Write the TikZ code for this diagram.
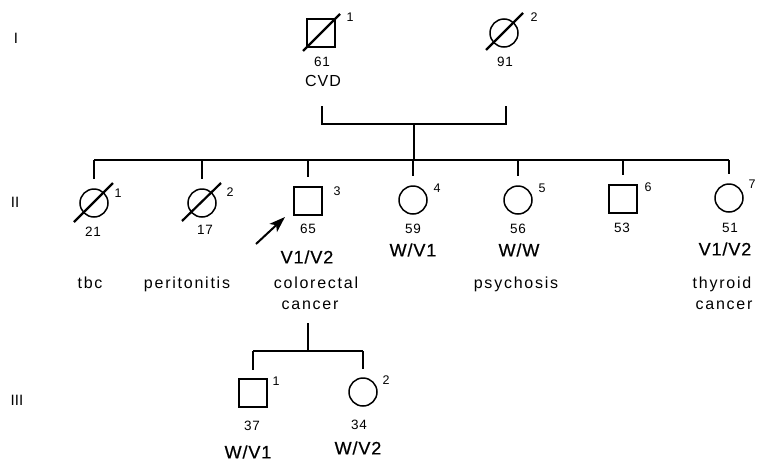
\documentclass[tikz,border=0pt]{standalone}
\usepackage{fontspec}
\setmainfont{Liberation Sans}
\newfontfamily\spaced[LetterSpace=11]{Liberation Sans}
\newfontfamily\spacedg[LetterSpace=6]{Liberation Sans}
\newfontfamily\spacedb[LetterSpace=5,FakeBold=0.6]{Liberation Sans}
\usetikzlibrary{arrows.meta,calc}
\tikzset{
  sq/.style={draw,rectangle,minimum size=28pt,inner sep=0pt,line width=1.6pt},
  ci/.style={draw,circle,minimum size=28pt,inner sep=0pt,line width=1.5pt},
  dead/.style={line width=2.2pt},
  lnk/.style={line width=1.7pt},
  idn/.style={font=\fontsize{12.5}{12.5}\selectfont,inner sep=0pt},
  age/.style={font=\spacedg\fontsize{13.5}{13.5}\selectfont,inner sep=0pt},
  geno/.style={font=\spacedb\fontsize{18}{18}\selectfont,inner sep=0pt},
  dis/.style={font=\spaced\fontsize{16}{16}\selectfont,inner sep=0pt,anchor=base},
  gen/.style={font=\fontsize{15}{15}\selectfont,inner sep=0pt},
}
\begin{document}
\begin{tikzpicture}[x=1pt,y=-1pt]
\useasboundingbox (0,0) rectangle (763,461);
% generation labels
\node[gen] (gI) at (16,38) {I};
\node[gen] (gII) at (15,202) {II};
\node[gen] (gIII) at (17,400) {III};
% Generation I
\node[sq] (I1) at (321,33) {};
\draw[dead] ($(I1.center)+(-18,18)$) -- ($(I1.center)+(19,-19)$);
\node[idn] (I1n) at (350,17) {1};
\node[age] (I1a) at (322,62) {61};
\node[font=\spacedg\fontsize{16}{16}\selectfont,inner sep=0pt] (I1d) at (323,81) {CVD};
\node[ci] (I2) at (504,33) {};
\draw[dead] ($(I2.center)+(-18,17)$) -- ($(I2.center)+(19,-20)$);
\node[idn] (I2n) at (534,17) {2};
\node[age] (I2a) at (505,62) {91};
% marriage and descent
\coordinate (mL) at (322,106);
\coordinate (mR) at (506,106);
\coordinate (mC) at (414,124);
\coordinate (sC) at (414,160);
\draw[lnk] (mL) -- (mL |- mC) -- (mR |- mC) -- (mR);
\draw[lnk] (mC) -- (sC);
% Generation II
\node[ci] (II1) at (94,203) {};
\node[ci] (II2) at (202,203) {};
\node[sq] (II3) at (308,201) {};
\node[ci] (II4) at (413,200) {};
\node[ci] (II5) at (518,200) {};
\node[sq] (II6) at (623,199) {};
\node[ci] (II7) at (729,198) {};
\draw[lnk] (II1.north |- sC) -- (II7.north |- sC);
\foreach \n in {II1,II2,II3,II4,II5,II6,II7}
  \draw[lnk] (\n.north |- sC) -- ($(\n.north)+(0,-9)$);
\draw[dead] ($(II1.center)+(-20,19)$) -- ($(II1.center)+(19,-20)$);
\draw[dead] ($(II2.center)+(-20,18)$) -- ($(II2.center)+(19,-20)$);
\node[idn] at (118,193) {1};
\node[idn] at (230,192) {2};
\node[idn] at (337,191) {3};
\node[idn] at (437,188) {4};
\node[idn] at (542,188) {5};
\node[idn] at (648,187) {6};
\node[idn] at (752,184) {7};
\node[age] (II1a) at (93,232) {21};
\node[age] (II2a) at (205,230) {17};
\node[age] (II3a) at (308,229) {65};
\node[age] (II4a) at (413,229) {59};
\node[age] (II5a) at (518,229) {56};
\node[age] (II6a) at (622,228) {53};
\node[age] (II7a) at (730,228) {51};
\node[geno] (II3g) at (307,257) {V1/V2};
\node[geno] (II4g) at (413,250) {W/V1};
\node[geno] (II5g) at (519,250) {W/W};
\node[geno] (II7g) at (725,249) {V1/V2};
\node[dis] (II1d) at (90,288) {tbc};
\node[dis] (II2d) at (187,288) {peritonitis};
\node[dis] (II3d) at (316,288) {colorectal};
\node[dis] (II3e) at (310,309) {cancer};
\node[dis] (II5d) at (516,288) {psychosis};
\node[dis] (II7d) at (722,288) {thyroid};
\node[dis] (II7e) at (724,309) {cancer};
% proband arrow
\coordinate (aS) at (256,244);
\coordinate (aT) at (285,217);
\draw[line width=2pt,-{Stealth[length=16pt,width=11pt,inset=4pt]}] (aS) -- (aT);
% Generation III
\coordinate (d3) at (308,323);
\coordinate (h3) at (308,351);
\node[sq] (III1) at (253,393) {};
\node[ci] (III2) at (363,392) {};
\draw[lnk] (d3) -- (h3);
\draw[lnk] (III1.north |- h3) -- (III2.north |- h3);
\draw[lnk] (III1.north |- h3) -- ($(III1.north)+(0,-8)$);
\draw[lnk] (III2.north |- h3) -- ($(III2.north)+(0,-8)$);
\node[idn] at (276,381) {1};
\node[idn] at (386,380) {2};
\node[age] (III1a) at (252,426) {37};
\node[age] (III2a) at (359,425) {34};
\node[geno] (III1g) at (248,452) {W/V1};
\node[geno] (III2g) at (358,448) {W/V2};
\end{tikzpicture}
\end{document}
